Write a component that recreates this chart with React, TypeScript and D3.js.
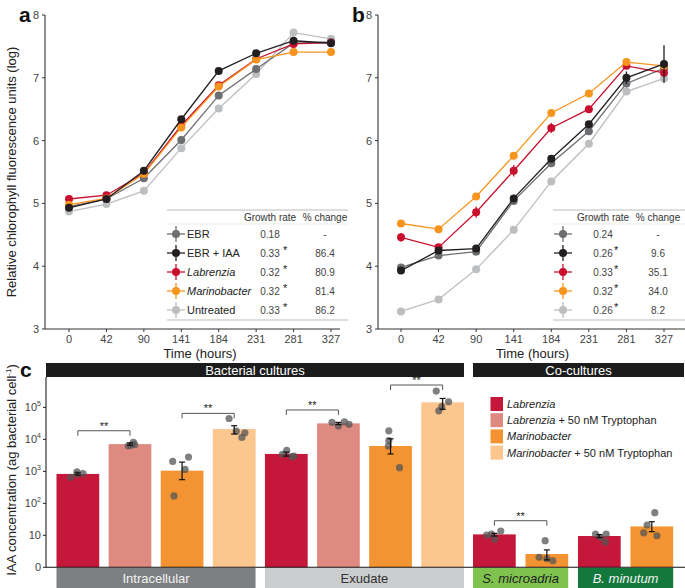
import React from "react";
import * as d3 from "d3";

const FONT = "'Liberation Sans', Arial, Helvetica, sans-serif";

// ---------- Panels a & b data ----------
const times = ["0", "42", "90", "141", "184", "231", "281", "327"];
const seriesNames = ["EBR", "EBR + IAA", "Labrenzia", "Marinobacter", "Untreated"];
const seriesItalic = [false, false, true, true, false];
const seriesColors = ["#6d6e71", "#231f20", "#c8102e", "#f7941d", "#bcbec0"];
const drawOrder = [4, 0, 2, 3, 1];

const aEBR = [4.95, 5.07, 5.4, 6.01, 6.72, 7.14, 7.55, 7.57];
const aEBRIAA = [4.93, 5.07, 5.52, 6.34, 7.11, 7.39, 7.59, 7.55];
const aLab = [5.07, 5.13, 5.48, 6.24, 6.88, 7.3, 7.54, 7.56];
const aMar = [4.98, 5.08, 5.47, 6.21, 6.86, 7.29, 7.41, 7.41];
const aUnt = [4.87, 4.99, 5.2, 5.88, 6.51, 7.06, 7.72, 7.62];
const aErr = [
  [0.02, 0.02, 0.02, 0.02, 0.02, 0.02, 0.02, 0.02],
  [0.02, 0.02, 0.02, 0.02, 0.02, 0.02, 0.02, 0.02],
  [0.05, 0.05, 0.03, 0.03, 0.03, 0.02, 0.02, 0.02],
  [0.02, 0.02, 0.02, 0.02, 0.02, 0.02, 0.02, 0.02],
  [0.02, 0.02, 0.02, 0.02, 0.02, 0.02, 0.02, 0.02],
];

const bEBR = [3.98, 4.17, 4.23, 5.04, 5.64, 6.15, 6.91, 7.15];
const bEBRIAA = [3.93, 4.25, 4.28, 5.08, 5.71, 6.26, 7.0, 7.22];
const bLab = [4.46, 4.3, 4.86, 5.52, 6.2, 6.5, 7.19, 7.08];
const bMar = [4.68, 4.59, 5.11, 5.76, 6.44, 6.75, 7.25, 7.19];
const bUnt = [3.28, 3.47, 3.95, 4.58, 5.35, 5.95, 6.78, 6.99];
const bErr = [
  [0.03, 0.03, 0.03, 0.03, 0.03, 0.03, 0.04, 0.05],
  [0.03, 0.03, 0.03, 0.03, 0.03, 0.03, 0.1, 0.3],
  [0.07, 0.05, 0.09, 0.09, 0.08, 0.04, 0.04, 0.03],
  [0.02, 0.02, 0.02, 0.02, 0.02, 0.02, 0.03, 0.02],
  [0.02, 0.02, 0.02, 0.02, 0.02, 0.02, 0.03, 0.05],
];

const aGrowth = ["0.18", "0.33", "0.32", "0.32", "0.33"];
const aSig = [false, true, true, true, true];
const aPct = ["-", "86.4", "80.9", "81.4", "86.2"];
const bGrowth = ["0.24", "0.26", "0.33", "0.32", "0.26"];
const bSig = [false, true, true, true, true];
const bPct = ["-", "9.6", "35.1", "34.0", "8.2"];

// ---------- Panel c data ----------
const barIds = ["b1", "b2", "b3", "b4", "b5", "b6", "b7", "b8", "b9", "b10", "b11", "b12"];
const barTreat = [0, 1, 2, 3, 0, 1, 2, 3, 0, 2, 0, 2];
const barValues = [830, 7100, 1050, 21000, 3500, 31600, 6200, 144000, 10.7, 2.6, 9.5, 19];
const errLow = [760, 6500, 550, 14700, 3000, 29000, 3500, 87000, 9.5, 1.7, 8.5, 13];
const errHigh = [900, 7700, 1950, 26700, 4000, 34000, 10400, 190000, 11.5, 3.5, 10.5, 26.6];
const dotValues = [
  [650, 810, 850, 970],
  [6300, 8100, 6600, 6900],
  [2050, 2800, 1150, 170],
  [45000, 18000, 16000, 11500],
  [3400, 4500, 2900, 3000],
  [34000, 26000, 35000, 29500],
  [18500, 9100, 6200, 1300],
  [323000, 150000, 105000, 78000],
  [10.2, 11, 7.6, 13.6],
  [6.8, 2.05, 1.86, 1.6],
  [11, 8.7, 11, 6.2],
  [51, 21, 12, 9.7],
];
const dotJitter = [
  [-0.17, -0.02, 0.12, -0.02],
  [-0.04, 0.08, 0.03, 0.11],
  [-0.22, 0.15, 0.07, -0.19],
  [-0.12, 0.05, 0.25, 0.18],
  [-0.09, 0.01, 0.13, 0.18],
  [-0.15, 0.0, 0.14, 0.25],
  [-0.04, -0.04, -0.05, 0.21],
  [-0.15, 0.14, -0.02, -0.09],
  [-0.18, -0.07, 0.01, 0.15],
  [-0.04, -0.18, 0.0, 0.14],
  [-0.09, 0.02, 0.16, 0.14],
  [0.07, -0.11, -0.19, 0.12],
];
const sigPairs = [[0, 1], [2, 3], [4, 5], [6, 7], [8, 9]];
const sigHeights = [18600, 65000, 83000, 500000, 28.6];
const treatNames = ["Labrenzia", "Labrenzia + 50 nM Tryptophan", "Marinobacter", "Marinobacter + 50 nM Tryptophan"];
const treatColors = ["#c4173a", "#de8a80", "#f39331", "#fcc68f"];
const cTicks = [1, 10, 100, 1000, 10000, 100000];
const cTickLabels = [["0", ""], ["10", ""], ["10", "2"], ["10", "3"], ["10", "4"], ["10", "5"]];
const facetNames = ["Bacterial cultures", "Co-cultures"];
const bottomStrips = [
  { name: "Intracellular", bars: [0, 7 - 4], fill: "#7d8083", text: "#f2f2f2", italic: false },
  { name: "Exudate", bars: [4, 7], fill: "#cbcdce", text: "#333", italic: false },
  { name: "S. microadria", bars: [8, 9], fill: "#7fc24e", text: "#222", italic: true },
  { name: "B. minutum", bars: [10, 11], fill: "#12783c", text: "#f2f2f2", italic: true },
];

function LinePanel(props: any) {
  const { axisX, axisRight, xRange, data, err, growth, sig, pct, table, label, labelX } = props;
  const x = d3.scalePoint<string>().domain(times).range(xRange);
  const y = d3.scaleLinear().domain([3, 8]).range([329, 15]);
  const rowY = d3.scalePoint<string>().domain(seriesNames).range([234, 310]);
  const line = d3.line<number>().x((_, i) => x(times[i])!).y((d) => y(d));
  return (
    <g>
      <text x={labelX} y={22} fontSize={21} fontWeight="bold" fill="#111">{label}</text>
      {/* y axis */}
      <line x1={axisX} x2={axisX} y1={y(8)} y2={y(3)} stroke="#333" strokeWidth={1.1} />
      {y.ticks(5).map((t) => (
        <g key={t}>
          <line x1={axisX - 3} x2={axisX} y1={y(t)} y2={y(t)} stroke="#333" />
          <text x={axisX - 6} y={y(t) + 4} fontSize={11} textAnchor="end" fill="#444">{t}</text>
        </g>
      ))}
      {/* x axis */}
      <line x1={axisX} x2={axisRight} y1={y(3)} y2={y(3)} stroke="#333" strokeWidth={1.1} />
      {times.map((t) => (
        <g key={t}>
          <line x1={x(t)} x2={x(t)} y1={y(3)} y2={y(3) + 3} stroke="#333" />
          <text x={x(t)} y={343} fontSize={11} textAnchor="middle" fill="#444">{t}</text>
        </g>
      ))}
      <text x={(xRange[0] + xRange[1]) / 2} y={358} fontSize={13} textAnchor="middle" fill="#222">Time (hours)</text>
      {/* series */}
      {drawOrder.map((si) => (
        <g key={si}>
          <path d={line(data[si])!} fill="none" stroke={seriesColors[si]} strokeWidth={1.3} />
          {data[si].map((v: number, i: number) => (
            <g key={i}>
              <line x1={x(times[i])} x2={x(times[i])} y1={y(v - err[si][i])} y2={y(v + err[si][i])} stroke={seriesColors[si]} strokeWidth={1.3} />
              <circle cx={x(times[i])} cy={y(v)} r={4} fill={seriesColors[si]} />
            </g>
          ))}
        </g>
      ))}
      {/* table */}
      <line x1={table.x1} x2={table.x2} y1={210} y2={210} stroke="#aaa" strokeWidth={0.8} />
      <line x1={table.x1} x2={table.x2} y1={224} y2={224} stroke="#ddd" strokeWidth={0.6} />
      <line x1={table.x1} x2={table.x2} y1={320} y2={320} stroke="#aaa" strokeWidth={0.8} />
      <text x={table.gx} y={221} fontSize={10} textAnchor="middle" fill="#333">Growth rate</text>
      <text x={table.px} y={221} fontSize={10} textAnchor="middle" fill="#333">% change</text>
      {seriesNames.map((n, i) => {
        const ry = rowY(n)!;
        return (
          <g key={n}>
            <line x1={table.mx - 9} x2={table.mx + 9} y1={ry} y2={ry} stroke={seriesColors[i]} strokeWidth={1.3} />
            <line x1={table.mx} x2={table.mx} y1={ry - 8} y2={ry + 8} stroke={seriesColors[i]} strokeWidth={1.3} />
            <circle cx={table.mx} cy={ry} r={4} fill={seriesColors[i]} />
            {table.showLabels && (
              <text x={table.mx + 11} y={ry + 4} fontSize={11} fill="#222" fontStyle={seriesItalic[i] ? "italic" : "normal"}>{n}</text>
            )}
            <text x={table.gx} y={ry + 3.5} fontSize={10} textAnchor={table.gAnchor} dx={table.gdx} fill="#444">{growth[i]}</text>
            {sig[i] && <text x={table.sx} y={ry + 1} fontSize={11} fill="#222">*</text>}
            <text x={table.px} y={ry + 3.5} fontSize={10} textAnchor="middle" fill="#444">{pct[i]}</text>
          </g>
        );
      })}
    </g>
  );
}

function BarPanel() {
  const y = d3.scaleLog().domain([1, Math.pow(10, 5.95)]).range([567.3, 377]);
  const x1 = d3.scaleBand<string>().domain(barIds.slice(0, 8)).range([56.5, 464]).paddingInner(0.18).paddingOuter(0);
  const x2 = d3.scaleBand<string>().domain(barIds.slice(8)).range([473, 673.5]).paddingInner(0.18).paddingOuter(0);
  const bx = (i: number) => (i < 8 ? x1(barIds[i])! : x2(barIds[i])!);
  const bw = x1.bandwidth();
  const cx = (i: number) => bx(i) + bw / 2;
  const axisX = 46;
  return (
    <g>
      <text x={20} y={377} fontSize={21} fontWeight="bold" fill="#111">c</text>
      {/* top strips */}
      <rect x={46} y={363} width={464 - 46} height={14} fill="#1c1c1c" />
      <text x={(46 + 464) / 2} y={375} fontSize={13} textAnchor="middle" fill="#fff">{facetNames[0]}</text>
      <rect x={473} y={363} width={684 - 473} height={14} fill="#1c1c1c" />
      <text x={(473 + 684) / 2} y={375} fontSize={13} textAnchor="middle" fill="#fff">{facetNames[1]}</text>
      {/* y axis */}
      <line x1={axisX} x2={axisX} y1={377} y2={567.3} stroke="#222" strokeWidth={1.1} />
      {cTicks.map((t, i) => (
        <g key={t}>
          <line x1={axisX - 3} x2={axisX} y1={y(t)} y2={y(t)} stroke="#222" />
          <text x={axisX - 5} y={y(t) + 4} fontSize={11} textAnchor="end" fill="#444">
            {cTickLabels[i][0]}
            {cTickLabels[i][1] && <tspan fontSize={7} dy={-5}>{cTickLabels[i][1]}</tspan>}
          </text>
        </g>
      ))}
      <text transform={`translate(16,${470}) rotate(-90)`} fontSize={13} textAnchor="middle" fill="#222">
        IAA concentration (ag bacterial cell<tspan fontSize={8} dy={-5}>-1</tspan><tspan dy={5}>)</tspan>
      </text>
      {/* bars */}
      {barValues.map((v, i) => (
        <rect key={i} x={bx(i)} y={y(v)} width={bw} height={y(1) - y(v)} fill={treatColors[barTreat[i]]} />
      ))}
      {/* dots */}
      {dotValues.map((arr, i) =>
        arr.map((v, j) => (
          <circle key={`${i}-${j}`} cx={cx(i) + dotJitter[i][j] * bw} cy={y(v)} r={3.6} fill="#555" fillOpacity={0.75} />
        ))
      )}
      {/* error bars */}
      {barValues.map((_, i) => (
        <g key={i} stroke="#111" strokeWidth={1.2}>
          <line x1={cx(i)} x2={cx(i)} y1={y(errLow[i])} y2={y(errHigh[i])} />
          <line x1={cx(i) - 3} x2={cx(i) + 3} y1={y(errLow[i])} y2={y(errLow[i])} />
          <line x1={cx(i) - 3} x2={cx(i) + 3} y1={y(errHigh[i])} y2={y(errHigh[i])} />
        </g>
      ))}
      {/* significance brackets */}
      {sigPairs.map(([a, b], k) => {
        const yy = y(sigHeights[k]);
        return (
          <g key={k}>
            <path d={`M${cx(a)},${yy + 5}V${yy}H${cx(b)}V${yy + 5}`} fill="none" stroke="#555" strokeWidth={1} />
            <text x={(cx(a) + cx(b)) / 2} y={yy - 1} fontSize={11} textAnchor="middle" fill="#222">**</text>
          </g>
        );
      })}
      {/* x axis line */}
      <line x1={axisX} x2={685} y1={567.3} y2={567.3} stroke="#111" strokeWidth={1.1} />
      {/* bottom strips */}
      {bottomStrips.map((s) => {
        const xa = bx(s.bars[0]);
        const xb = bx(s.bars[1]) + bw;
        return (
          <g key={s.name}>
            <rect x={xa} y={568} width={xb - xa} height={20} fill={s.fill} />
            <text x={(xa + xb) / 2} y={583} fontSize={13} textAnchor="middle" fill={s.text} fontStyle={s.italic ? "italic" : "normal"}>{s.name}</text>
          </g>
        );
      })}
      {/* legend */}
      {treatNames.map((n, i) => {
        const ly = 404 + i * 16.2;
        const parts = n.split(" + ");
        return (
          <g key={n}>
            <rect x={490.5} y={ly - 7} width={12.5} height={14} fill={treatColors[i]} />
            <text x={507} y={ly + 4} fontSize={11} fill="#222">
              <tspan fontStyle="italic">{parts[0]}</tspan>
              {parts[1] && <tspan>{" + " + parts[1]}</tspan>}
            </text>
          </g>
        );
      })}
    </g>
  );
}

export default function App() {
  return (
    <svg width={685} height={588} style={{ position: "absolute", left: 0, top: 0, fontFamily: FONT }} fontFamily={FONT}>
      <rect width={685} height={588} fill="#fff" />
      <text transform="translate(16,172) rotate(-90)" fontSize={13} textAnchor="middle" fill="#222">
        Relative chlorophyll fluorescence units (log)
      </text>
      <LinePanel
        axisX={45}
        axisRight={340}
        xRange={[69, 331]}
        data={[aEBR, aEBRIAA, aLab, aMar, aUnt]}
        err={aErr}
        growth={aGrowth}
        sig={aSig}
        pct={aPct}
        label="a"
        labelX={19}
        table={{ x1: 167, x2: 348, mx: 176, gx: 270, gAnchor: "middle", gdx: 0, sx: 283, px: 325, showLabels: true }}
      />
      <LinePanel
        axisX={378}
        axisRight={685}
        xRange={[401, 664]}
        data={[bEBR, bEBRIAA, bLab, bMar, bUnt]}
        err={bErr}
        growth={bGrowth}
        sig={bSig}
        pct={bPct}
        label="b"
        labelX={352}
        table={{ x1: 553, x2: 685, mx: 563, gx: 603, gAnchor: "middle", gdx: 0, sx: 614, px: 658, showLabels: false }}
      />
      <BarPanel />
    </svg>
  );
}
